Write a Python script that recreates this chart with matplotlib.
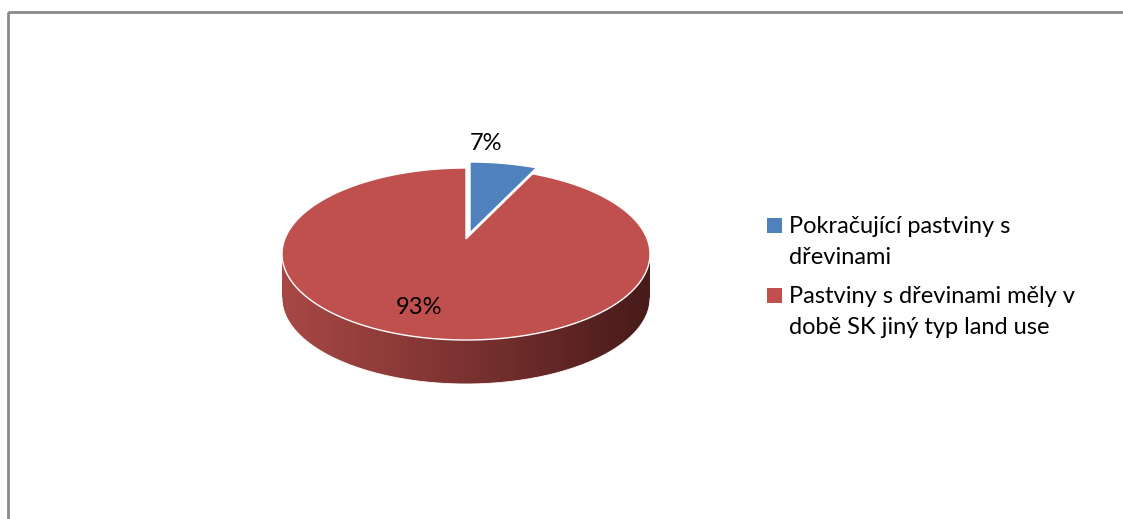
import numpy as np
import matplotlib.pyplot as plt
from matplotlib.patches import Polygon, Rectangle

# podíly ploch (%)
kategorie = ["Pokračující pastviny s\ndřevinami",
             "Pastviny s dřevinami měly v\ndobě SK jiný typ land use"]
podily = [7, 93]
barvy = ["#4F81BD", "#C0504D"]

plt.rcParams['font.family'] = ['Lato', 'DejaVu Sans']

W, H = 1123, 519
fig = plt.figure(figsize=(W / 100, H / 100), dpi=100)
ax = fig.add_axes([0, 0, 1, 1])
ax.set_xlim(0, W)
ax.set_ylim(H, 0)
ax.axis('off')

# ramecek grafu
ax.add_patch(Rectangle((8, 12), W + 20, H + 20, fill=False, ec="#8a8a8a", lw=2))

# 3D kolac s perspektivou: kruh v rovine, kamera sklonena, vzdalenost D
D, sphi, cphi = 5.0, 0.47, 0.88
levy, pravy, horni_y, dolni_y = 282, 650, 168, 340
hloubka = 44


def raw(t):
    t = np.radians(t)
    d = D + np.sin(t) * cphi
    return np.cos(t) / d, np.sin(t) * sphi / d


tt_all = np.linspace(0, 360, 3601)
rx, ry = raw(tt_all)
sx = (pravy - levy) / (rx.max() - rx.min())
sy = (dolni_y - horni_y) / (ry.max() - ry.min())
ox = levy - rx.min() * sx
oy = horni_y + ry.max() * sy
t_left = tt_all[np.argmin(rx)]
t_right = tt_all[np.argmax(rx)]


def bod(t, dz=0.0):
    x, y = raw(np.asarray(t, dtype=float))
    return ox + x * sx, oy - y * sy + dz


# bocni stena - viditelna cast patri cervene vyseci
t = np.linspace(t_left, t_right + 360 if t_right < t_left else t_right, 300)
horni = np.column_stack(bod(t))
dolni = np.column_stack(bod(t[::-1], hloubka))
bok = Polygon(np.vstack([horni, dolni]), closed=True, fc="none", ec="none")
ax.add_patch(bok)
stops = np.array([[168, 72, 70], [118, 48, 46], [72, 26, 26]]) / 255
xs = np.linspace(0, 1, 300)
grad = np.column_stack([np.interp(xs, [0, 0.55, 1], stops[:, k]) for k in range(3)])
img = ax.imshow(grad[np.newaxis, :, :], extent=[levy, pravy, dolni_y + hloubka + 2, horni_y],
                aspect='auto', zorder=1)
img.set_clip_path(bok)
ax.plot(*bod(t, hloubka), color="white", lw=0.6, zorder=2)

# horni plochy vysecí
posun = [(4, -6), (0, 0)]
start = 90.0
for p, c, (dx, dy) in zip(podily, barvy, posun):
    konec = start - 360 * p / 100
    tt = np.linspace(start, konec, max(int(abs(konec - start)), 2) * 2)
    xa, ya = bod(tt)
    xy = np.vstack([[ox, oy], np.column_stack([xa, ya])]) + [dx, dy]
    ax.add_patch(Polygon(xy, closed=True, fc=c, ec="white", lw=1, zorder=3))
    start = konec

# popisky hodnot
pozice = [(486, 143), (419, 308)]
for p, (x, y) in zip(podily, pozice):
    ax.text(x, y, f"{p}%", fontsize=17, ha="center", va="center", color="black", zorder=5)

# legenda
leg_y = [233, 303]
for nazev, c, y in zip(kategorie, barvy, leg_y):
    ax.add_patch(Rectangle((767, y - 15), 15, 15, fc=c, ec="none"))
    for i, radek in enumerate(nazev.split("\n")):
        ax.text(789, y + i * 31, radek, fontsize=17, ha="left", va="baseline")

fig.savefig("out.png", dpi=100)
